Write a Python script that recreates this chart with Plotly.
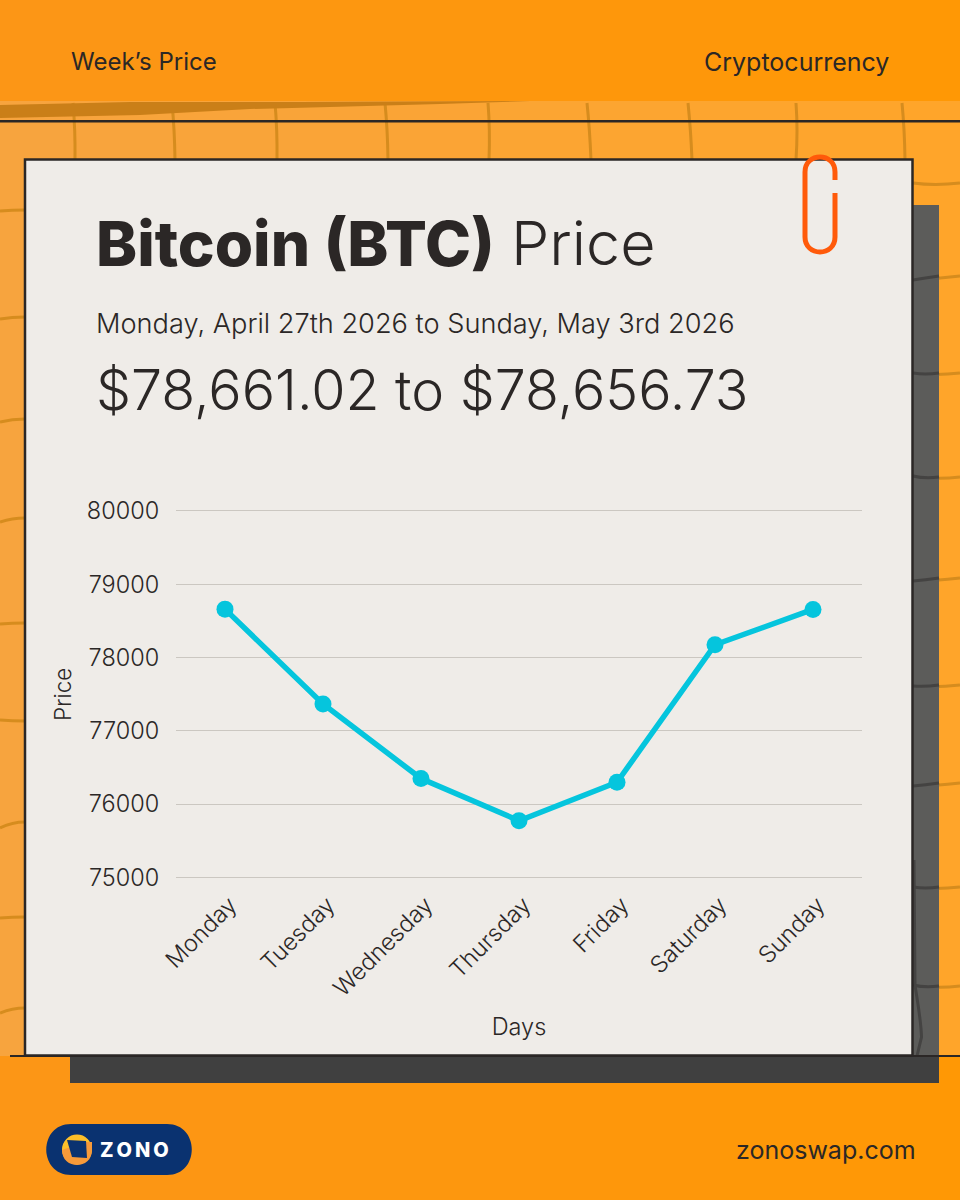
import plotly.graph_objects as go

days = ["Monday", "Tuesday", "Wednesday", "Thursday", "Friday", "Saturday", "Sunday"]
prices = [78661, 77367, 76350, 75775, 76300, 78175, 78657]
price_ticks = [75000, 76000, 77000, 78000, 79000, 80000]

W, H = 960, 1200
INK = "#2b2726"
PAPER = "#efece8"
SHADOW = "#5c5c5a"
SCRIBBLE = "#d68c1e"
FONT = "Inter"


def fx(x):
    return x / W


def fy(y):
    return 1 - y / H


def rect(x0, y0, x1, y1, fill, line=None, width=0):
    return dict(type="rect", xref="paper", yref="paper", layer="below",
                x0=fx(x0), x1=fx(x1), y0=fy(y0), y1=fy(y1), fillcolor=fill,
                line=dict(color=line or fill, width=width))


def path(cmds, color, width=0, fill=None):
    # cmds: lista di (lettera, x, y, x, y...) in pixel della pagina
    parts = []
    for c in cmds:
        nums = []
        for i, v in enumerate(c[1:]):
            nums.append(f"{fx(v) if i % 2 == 0 else fy(v):.5f}")
        parts.append(c[0] + " " + ",".join(nums))
    d = " ".join(parts)
    return dict(type="path", xref="paper", yref="paper", layer="below", path=d,
                fillcolor=fill or "rgba(0,0,0,0)", line=dict(color=color, width=width))


def blend(a, b, t):
    vals = [round(a[i] + (b[i] - a[i]) * t) for i in range(3)]
    return "rgb(%d,%d,%d)" % tuple(vals)


shapes = []

# fondo: bande con leggero gradiente orizzontale
n_strips = 16
for i in range(n_strips):
    t = i / (n_strips - 1)
    x0, x1 = i * W / n_strips, (i + 1) * W / n_strips + 1
    shapes.append(rect(x0, 100, x1, 1056, blend((247, 164, 62), (255, 165, 42), t)))
    shapes.append(rect(x0, 0, x1, 101, blend((252, 150, 22), (255, 152, 5), t)))
    shapes.append(rect(x0, 1056, x1, H, blend((252, 150, 22), (255, 152, 5), t)))

# griglia disegnata a mano
verticals = [(73, 75), (172, 175), (275, 277), (385, 388), (488, 489), (587, 591),
             (688, 692), (796, 796), (902, 905)]
for xa, xb in verticals:
    shapes.append(path([("M", xa, 103), ("Q", xa + (xb - xa) * 0.2 + 2, 130, xb, 160)], SCRIBBLE, 3))

left_lines = [(211, 210), (319, 317), (422, 419), (522, 518), (624, 623), (720, 721),
              (828, 822), (918, 917), (1013, 1008)]
for ya, yb in left_lines:
    shapes.append(path([("M", 0, ya), ("Q", 12, yb, 25, yb)], SCRIBBLE, 3))

right_lines = [(183, 183), (280, 276), (373, 373), (476, 477), (581, 578), (686, 685),
               (786, 783), (887, 887), (985, 986)]
for ya, yb in right_lines:
    shapes.append(path([("M", 913, ya), ("Q", 935, yb + 3, 960, yb)], SCRIBBLE, 3))

# sbavatura sotto la fascia alta
shapes.append(path([("M", 0, 105), ("L", 130, 102), ("L", 300, 102), ("L", 530, 101),
                    ("L", 440, 104), ("L", 330, 107), ("L", 250, 109), ("L", 140, 115),
                    ("L", 0, 118), ("Z",)],
                   "#ca7f18", 0, fill="#ca7f18"))

# linea di testata
shapes.append(rect(0, 120, W, 122.5, INK))

# ombra del foglio
shapes.append(rect(905, 205, 939, 1056, SHADOW))
for ya, yb in right_lines[1:]:
    shapes.append(path([("M", 913, ya), ("Q", 925, yb + 2, 939, yb)], "#444342", 3))
shapes.append(path([("M", 914, 860), ("L", 915, 985), ("C", 918, 1005, 921, 1020, 921.5, 1037),
                    ("L", 917, 1056)], "#444342", 3))
shapes.append(rect(70, 1056, 939, 1083, "#404040"))
shapes.append(rect(10, 1055, W, 1057, INK))

# foglio
shapes.append(rect(25, 159.5, 912.5, 1055.5, PAPER, INK, 2.5))

# graffetta
shapes.append(path([("M", 835, 180), ("L", 835, 172), ("C", 835, 152, 805, 152, 805, 172),
                    ("L", 805, 237), ("C", 805, 257, 835, 257, 835, 237), ("L", 835, 193)],
                   "#ff5a0a", 5))

# logo
shapes.append(path([("M", 71, 1124), ("L", 167, 1124), ("C", 200, 1124, 200, 1175, 167, 1175),
                    ("L", 71, 1175), ("C", 38, 1175, 38, 1124, 71, 1124), ("Z",)],
                   "#0a3270", 0, fill="#0a3270"))
shapes.append(dict(type="circle", xref="paper", yref="paper", layer="below",
                   x0=fx(62), x1=fx(92), y0=fy(1164.5), y1=fy(1134.5),
                   fillcolor="#fcbf2a", line=dict(width=0)))
shapes.append(path([("M", 62, 1150), ("C", 62, 1170, 92, 1170, 92, 1150), ("L", 92, 1142), ("L", 85, 1142), ("Z",)],
                   "#f79a3a", 0, fill="#f79a3a"))
shapes.append(path([("M", 67, 1140), ("L", 86, 1141), ("L", 87, 1158), ("L", 72, 1157), ("Z",)],
                   "#0a3270", 0, fill="#0a3270"))


def note(text, x, y, size, anchor="left", color=INK, weight=400):
    return dict(text=text, x=fx(x), y=fy(y), xref="paper", yref="paper", xanchor=anchor,
                yanchor="middle", showarrow=False,
                font=dict(family=FONT, size=size, color=color, weight=weight))


annotations = [
    note("Week’s Price", 69, 62, 24),
    note("Cryptocurrency", 891, 62, 25, anchor="right"),
    note("Bitcoin (BTC)", 94, 243, 62, weight=800),
    note("Price", 509, 243, 61, weight=300),
    note("Monday, April 27th 2026 to Sunday, May 3rd 2026", 94, 323, 27.2, weight=300),
    note("$78,661.02 to $78,656.73", 94, 389, 55.5, weight=300),
    note("zonoswap.com", 918, 1150, 25, anchor="right"),
    note("Z\u2009O\u2009N\u2009O", 98, 1150, 20, color="white", weight=800),
]

fig = go.Figure()
fig.add_trace(go.Scatter(
    x=days,
    y=prices,
    mode="lines+markers",
    line=dict(color="#05c5dd", width=5.5),
    marker=dict(color="#05c5dd", size=17),
    showlegend=False,
))

tick_font = dict(family=FONT, size=23.5, color=INK, weight=300)
fig.update_layout(
    width=W,
    height=H,
    autosize=False,
    margin=dict(l=0, r=0, t=0, b=0, autoexpand=False),
    paper_bgcolor=PAPER,
    plot_bgcolor="rgba(0,0,0,0)",
    shapes=shapes,
    annotations=annotations,
    showlegend=False,
    xaxis=dict(
        domain=[fx(176), fx(862)],
        type="category",
        categoryorder="array",
        categoryarray=days,
        range=[-0.5, 6.5],
        showgrid=False,
        zeroline=False,
        showline=False,
        ticks="outside",
        ticklen=2,
        tickcolor="rgba(0,0,0,0)",
        tickangle=-45,
        ticklabelshift=5,
        tickfont=tick_font,
        title=dict(text="Days", font=dict(family=FONT, size=23.5, color=INK, weight=300), standoff=17),
    ),
    yaxis=dict(
        domain=[fy(879), fy(509.5)],
        range=[74980, 80020],
        tickvals=price_ticks,
        tickformat="d",
        gridcolor="#cbc7c1",
        gridwidth=1,
        zeroline=False,
        showline=False,
        ticks="outside",
        ticklen=11,
        tickcolor="rgba(0,0,0,0)",
        tickfont=tick_font,
        title=dict(text="Price", font=dict(family=FONT, size=22.5, color=INK, weight=300), standoff=8),
    ),
)

fig.write_html("out.html", config={"displayModeBar": False},
               post_script="document.body.style.margin='0';")
